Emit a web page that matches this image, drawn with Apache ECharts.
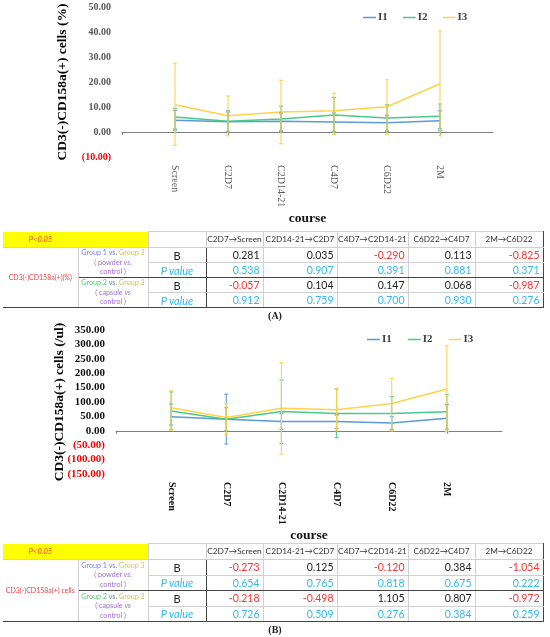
<!DOCTYPE html>
<html><head><meta charset="utf-8">
<script src="https://cdn.jsdelivr.net/npm/echarts@6/dist/echarts.min.js"></script>
<style>
html,body{margin:0;padding:0;background:#fff;width:550px;height:637px;overflow:hidden;}
#chart{position:absolute;left:0;top:0;width:550px;height:637px;}
table.t{position:absolute;left:3px;border-collapse:collapse;table-layout:fixed;font-family:Lato,'Open Sans',sans-serif;color:#222;}
table.t td{padding:0;border:1px solid #d0d0d0;line-height:1;white-space:nowrap;overflow:hidden;}
td.hd{font-size:8.3px;text-align:center;color:#333;}
td.yl{background:#ffff00;border:none !important;color:#ff3b3b;font-style:italic;font-size:7.5px;text-align:center;}
td.rl{color:#ee4444;font-size:7px;text-align:center;border-left:none !important;border-bottom:1px solid #444 !important;}
td.gl{font-size:7.2px;text-align:center;line-height:1.3 !important;border-bottom:1px solid #444 !important;}
td.bb{font-size:11px;text-align:center;color:#222;border-right:1px solid #444 !important;}
td.pv{font-size:11px;text-align:center;color:#33b9ee;font-style:italic;border-right:1px solid #444 !important;border-bottom:1px solid #444 !important;}
td.v{font-size:10.5px;text-align:right;padding-right:3px !important;}
td.vp{font-size:10.5px;text-align:right;padding-right:3px !important;color:#33b9ee;border-bottom:1px solid #444 !important;}
td.last{border-right:1px solid #444 !important;}
.cap{position:absolute;font-family:'Liberation Serif',serif;font-weight:bold;font-size:10px;color:#222;width:40px;text-align:center;}
</style>
</head><body>
<div id="chart"></div>
<div class="cap" style="left:255px;top:310px;">(A)</div>
<div class="cap" style="left:255px;top:624px;">(B)</div>
<script>
// ---------- data ----------
var categories = ['Screen', 'C2D7', 'C2D14-21', 'C4D7', 'C6D22', '2M'];
var seriesNames = ['I1', 'I2', 'I3'];

// Chart A : CD3(-)CD158a(+) cells (%)
var aI1 = [4.7, 4.1, 4.3, 4.0, 3.7, 4.5];
var aI2 = [6.0, 4.3, 5.2, 6.8, 5.6, 6.3];
var aI3 = [10.9, 6.5, 8.0, 8.5, 10.1, 19.3];
var aI1Hi = [8.7, 8.5, 7.5, 7.6, 6.7, 8.5];
var aI1Lo = [0.7, -0.2, 0.5, 0.2, 0.5, 0.5];
var aI2Hi = [9.5, 8.0, 10.3, 13.8, 10.9, 11.2];
var aI2Lo = [1.2, 0.3, 0.2, -0.2, 0.3, 1.3];
var aI3Hi = [27.6, 14.4, 20.7, 15.5, 20.9, 40.4];
var aI3Lo = [-5.3, -1.5, -4.7, -1.1, -1.1, -1.5];

// Chart B : CD3(-)CD158a(+) cells (/ul)
var bI1 = [49, 40, 32, 32, 27, 44];
var bI2 = [69, 40, 67, 60, 60, 66];
var bI3 = [80, 46, 78, 73, 95, 145];
var bI1Hi = [93, 127, 60, 55, 49, 91];
var bI1Lo = [20, -46, 5, 8, 5, -3];
var bI2Hi = [135, 80, 176, 145, 119, 126];
var bI2Lo = [5, 0, -44, -24, 0, 5];
var bI3Hi = [139, 95, 237, 147, 182, 295];
var bI3Lo = [2, -13, -81, 0, 0, -3];

// Tables
var transitions = ['C2D7\u2192Screen', 'C2D14-21\u2192C2D7', 'C4D7\u2192C2D14-21', 'C6D22\u2192C4D7', '2M\u2192C6D22'];
var tA_B1 = [0.281, 0.035, -0.290, 0.113, -0.825];
var tA_P1 = [0.538, 0.907, 0.391, 0.881, 0.371];
var tA_B2 = [-0.057, 0.104, 0.147, 0.068, -0.987];
var tA_P2 = [0.912, 0.759, 0.700, 0.930, 0.276];
var tB_B1 = [-0.273, 0.125, -0.120, 0.384, -1.054];
var tB_P1 = [0.654, 0.765, 0.818, 0.675, 0.222];
var tB_B2 = [-0.218, -0.498, 1.105, 0.807, -0.972];
var tB_P2 = [0.726, 0.509, 0.276, 0.384, 0.259];

// ---------- chart ----------
var colors = ['#5b9bd5', '#4cc98a', '#ffd24c'];
var serif = "'Liberation Serif', 'Times New Roman', serif";
var axisCats = [' '].concat(categories).concat(['  ']);

function yFmt(v) {
  if (v < 0) return '{n|(' + Math.abs(v).toFixed(2) + ')}';
  return v.toFixed(2);
}

function errData(lo, hi) {
  return categories.map(function (c, i) { return [c, lo[i], hi[i]]; });
}
function lineData(vals) {
  return categories.map(function (c, i) { return [c, vals[i]]; });
}
function errRender(color) {
  return function (params, api) {
    var x = api.value(0);
    var p1 = api.coord([x, api.value(2)]);
    var p2 = api.coord([x, api.value(1)]);
    var w = 2;
    var st = { stroke: color, lineWidth: 1.2, opacity: 0.9 };
    return {
      type: 'group',
      children: [
        { type: 'line', shape: { x1: p1[0], y1: p1[1], x2: p2[0], y2: p2[1] }, style: st },
        { type: 'line', shape: { x1: p1[0] - w, y1: p1[1], x2: p1[0] + w, y2: p1[1] }, style: st },
        { type: 'line', shape: { x1: p2[0] - w, y1: p2[1], x2: p2[0] + w, y2: p2[1] }, style: st }
      ]
    };
  };
}

function xAxes(grid, labelColor, labelWeight) {
  return [
    {
      type: 'category', gridIndex: grid, data: axisCats, boundaryGap: false, position: 'bottom',
      axisLine: { show: false, onZero: false }, axisTick: { show: false },
      axisLabel: { interval: 0, rotate: -90, margin: 8, color: labelColor, fontFamily: serif, fontSize: 10, fontWeight: labelWeight },
      name: 'course', nameLocation: 'middle', nameGap: 55, nameMoveOverlap: false,
      nameTextStyle: { fontFamily: serif, fontWeight: 'bold', fontSize: 13.5, color: '#111' }
    },
    {
      type: 'category', gridIndex: grid, data: axisCats, boundaryGap: false, position: 'top',
      axisLine: { show: true, onZero: true, lineStyle: { color: '#7f7f7f', width: 1 } },
      axisTick: { show: true, inside: true, length: 3, lineStyle: { color: '#7f7f7f' } },
      axisLabel: { show: false }, splitLine: { show: false }
    }
  ];
}

function yAxis(grid, min, max, interval, name, fs, color, gap) {
  return {
    type: 'value', gridIndex: grid, min: min, max: max, interval: interval,
    axisLine: { show: false }, axisTick: { show: false }, splitLine: { show: false },
    axisLabel: {
      formatter: yFmt, fontFamily: serif, fontWeight: 'bold', fontSize: fs, color: color, margin: 11,
      rich: { n: { color: '#ff0000', fontFamily: serif, fontWeight: 'bold', fontSize: fs } }
    },
    name: name, nameLocation: 'middle', nameGap: gap, nameMoveOverlap: false,
    nameTextStyle: { fontFamily: serif, fontWeight: 'bold', fontSize: 13.5, color: '#000' }
  };
}

var series = [];
function addSet(xi, yi, means, his, los) {
  for (var k = 0; k < 3; k++) {
    series.push({
      type: 'custom', xAxisIndex: xi, yAxisIndex: yi, renderItem: errRender(colors[k]),
      data: errData(los[k], his[k]), z: 3, silent: true
    });
  }
  for (var k2 = 0; k2 < 3; k2++) {
    series.push({
      type: 'line', name: seriesNames[k2], xAxisIndex: xi, yAxisIndex: yi, symbol: 'none',
      data: lineData(means[k2]), lineStyle: { color: colors[k2], width: 1.5 }, itemStyle: { color: colors[k2] }, z: 2
    });
  }
}
addSet(0, 0, [aI1, aI2, aI3], [aI1Hi, aI2Hi, aI3Hi], [aI1Lo, aI2Lo, aI3Lo]);
addSet(2, 1, [bI1, bI2, bI3], [bI1Hi, bI2Hi, bI3Hi], [bI1Lo, bI2Lo, bI3Lo]);

var legendText = { fontFamily: serif, fontWeight: 'bold', fontSize: 11, color: '#404040', padding: [0, 0, 0, -3] };
var option = {
  animation: false,
  color: colors,
  grid: [
    { left: 122, width: 371, top: 7, height: 150 },
    { left: 116, width: 386, top: 330, height: 144 }
  ],
  legend: [
    { data: seriesNames, left: 363, top: 12, icon: 'rect', itemWidth: 13, itemHeight: 1.5, itemGap: 15, textStyle: legendText, padding: 0 },
    { data: seriesNames, left: 367, top: 334, icon: 'rect', itemWidth: 13, itemHeight: 1.5, itemGap: 16, textStyle: legendText, padding: 0 }
  ],
  xAxis: xAxes(0, '#595959', 'normal').concat(xAxes(1, '#111', 'bold')),
  yAxis: [
    yAxis(0, -10, 50, 10, 'CD3(-)CD158a(+) cells (%)', 10, '#595959', 52),
    yAxis(1, -150, 350, 50, 'CD3(-)CD158a(+) cells (/ul)', 11, '#111', 49)
  ],
  series: series
};
echarts.init(document.getElementById('chart'), null, { renderer: 'canvas' }).setOption(option);

// ---------- tables ----------
var colW = [75, 70, 58, 57, 74, 71, 67, 68];
function fmt(v) { return v.toFixed(3); }
function buildTable(top, headH, rowH, label, b1, p1, b2, p2) {
  var h = '<table class="t" style="top:' + top + 'px;width:' + colW.reduce(function (a, b) { return a + b; }, 0) + 'px">';
  h += '<colgroup>' + colW.map(function (w) { return '<col style="width:' + w + 'px">'; }).join('') + '</colgroup>';
  h += '<tr style="height:' + headH + 'px"><td class="yl">P&lt;0.05</td><td class="yl"></td><td class="hd"></td>';
  transitions.forEach(function (t, i) { h += '<td class="hd' + (i === 4 ? ' last' : '') + '">' + t + '</td>'; });
  h += '</tr>';
  var groups = [
    ['<span style="color:#7b83eb">Group 1</span> <span style="color:#6f7fc0">vs.</span> <span style="color:#d2c84a">Group 3</span><br><span style="color:#a070d0">( powder <i>vs</i>. <br>control )</span>', b1, p1],
    ['<span style="color:#55cc77">Group 2</span> <span style="color:#6f7fc0">vs.</span> <span style="color:#d2c84a">Group 3</span><br><span style="color:#a070d0">( capsule <i>vs</i> <br>control )</span>', b2, p2]
  ];
  groups.forEach(function (g, gi) {
    h += '<tr style="height:' + rowH + 'px">';
    if (gi === 0) h += '<td class="rl" rowspan="4">' + label + '</td>';
    h += '<td class="gl" rowspan="2">' + g[0] + '</td><td class="bb">B</td>';
    g[1].forEach(function (v, i) {
      h += '<td class="v' + (i === 4 ? ' last' : '') + '" style="color:' + (v < 0 ? '#ff3333' : '#222') + '">' + fmt(v) + '</td>';
    });
    h += '</tr><tr style="height:' + rowH + 'px"><td class="pv">P value</td>';
    g[2].forEach(function (v, i) { h += '<td class="vp' + (i === 4 ? ' last' : '') + '">' + fmt(v) + '</td>'; });
    h += '</tr>';
  });
  h += '</table>';
  return h;
}
document.body.insertAdjacentHTML('beforeend', buildTable(231, 16, 15, 'CD3(-)CD158a(+)(%)', tA_B1, tA_P1, tA_B2, tA_P2));
document.body.insertAdjacentHTML('beforeend', buildTable(543, 16, 15.5, 'CD3(-)CD158a(+) cells', tB_B1, tB_P1, tB_B2, tB_P2));
</script>
</body></html>
